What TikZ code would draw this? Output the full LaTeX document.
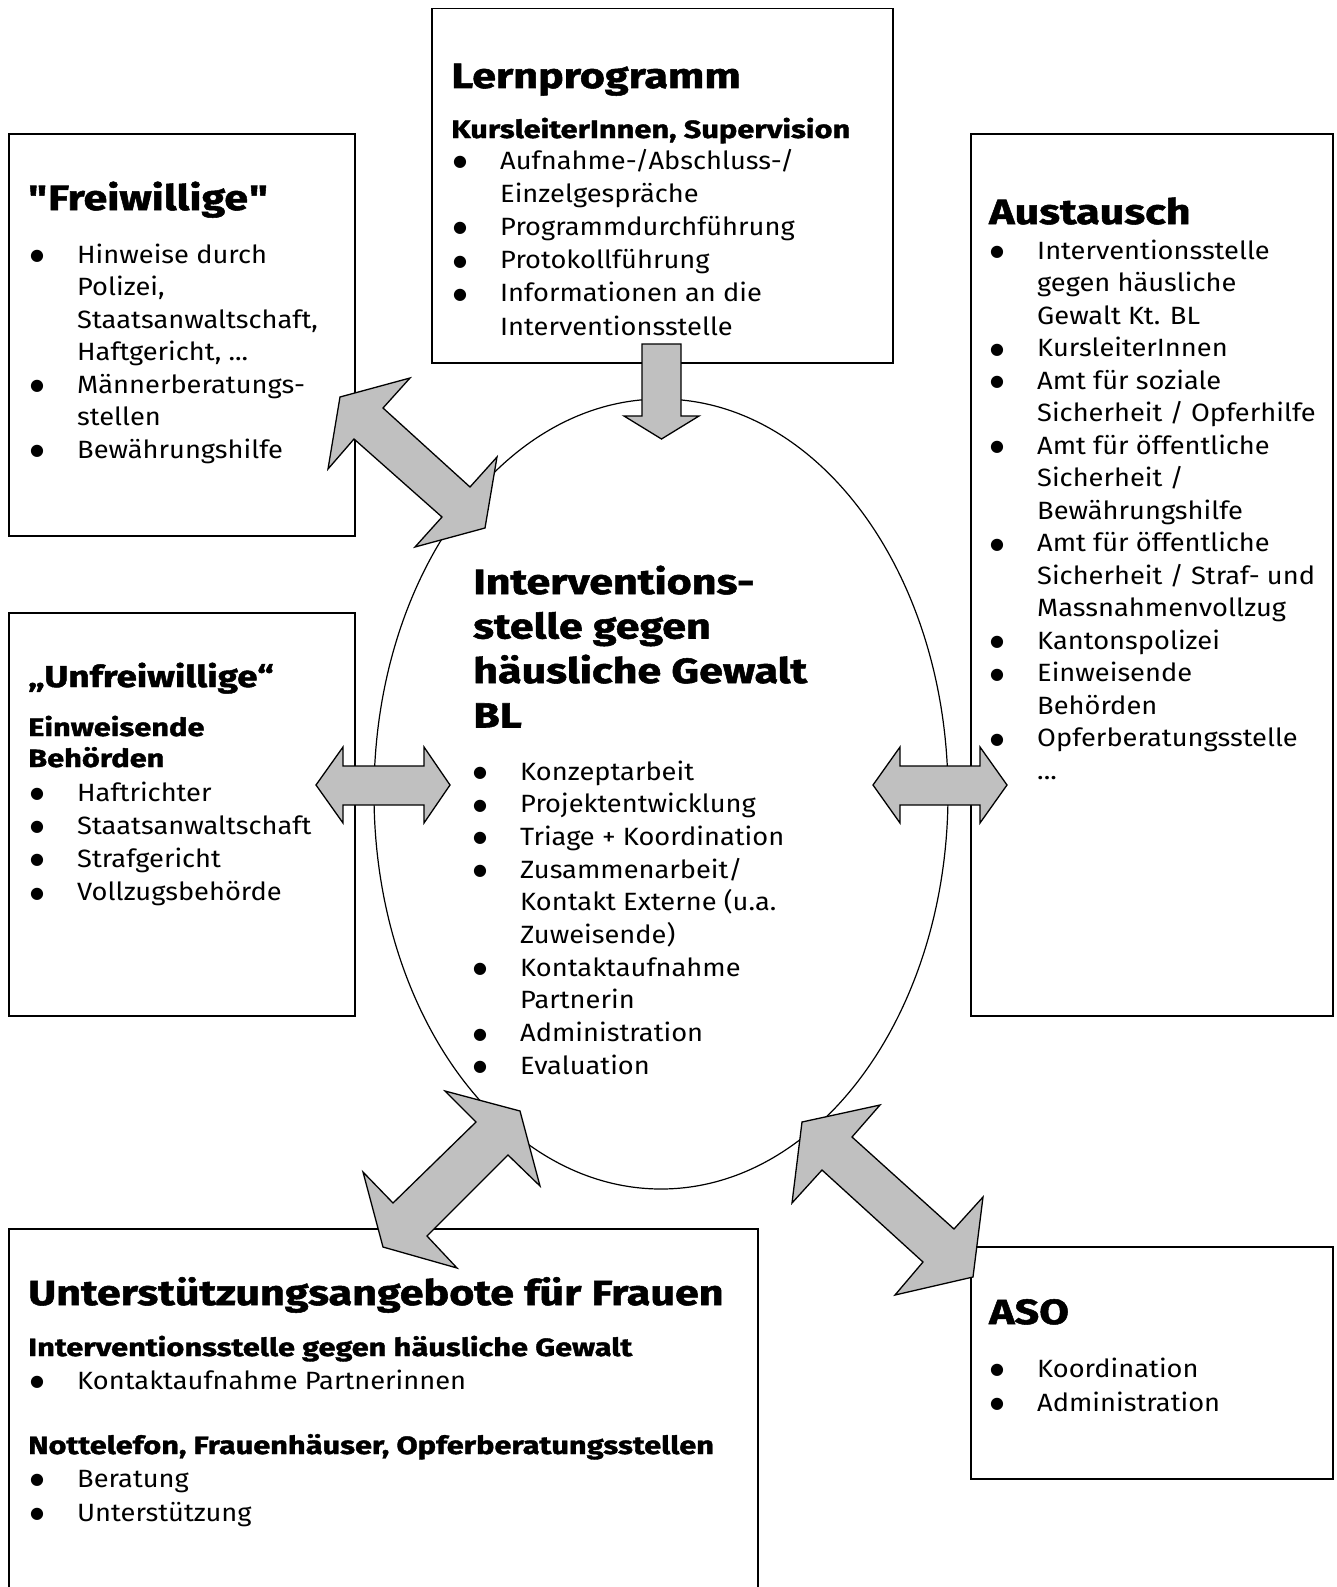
\documentclass[tikz,border=0pt]{standalone}
\usepackage{fontspec}
\setmainfont{Fira Sans}
\newfontfamily\bodyf{Fira Sans}[FakeStretch=1.09]
\newfontfamily\heavyf{Fira Sans}[FakeStretch=1.23,FakeBold=1.5]
\newfontfamily\dejavu{DejaVu Sans}
\usetikzlibrary{shapes.geometric}
\definecolor{arrowgray}{RGB}{192,192,192}
\newcommand\bul{\raisebox{2.5pt}{\dejavu\fontsize{16}{16}\selectfont ●}}
\newcommand\itm[1]{\hbox{\llap{\makebox[0pt]{\bul}\hspace{40pt}}#1}}
\newcommand\cnt[1]{\hbox{#1}}
\newcommand\lines[2]{\vtop{\baselineskip=#1pt\lineskiplimit=-100pt\lineskip=0pt #2}}
\tikzset{
  box/.style={draw, line width=1.5pt, inner sep=0pt, anchor=north west},
  txt/.style={inner sep=0pt, anchor=base west, font=\bodyf\fontsize{25}{32.5}\selectfont},
  hbig/.style={inner sep=0pt, anchor=base west, font=\heavyf\bfseries\fontsize{35}{44.5}\selectfont},
  hsmall/.style={inner sep=0pt, anchor=base west, font=\heavyf\bfseries\fontsize{30}{36}\selectfont},
  subh/.style={inner sep=0pt, anchor=base west, font=\heavyf\bfseries\fontsize{25}{31}\selectfont},
  blockarrow/.style={fill=arrowgray, draw=black, line width=1.3pt, line join=miter},
}
\begin{document}
\begin{tikzpicture}[x=1pt,y=-1pt]
\useasboundingbox (0,0) rectangle (1336,1587);
% boxes
\node[box, minimum width=461pt, minimum height=354pt] (lern) at (431,8) {};
\node[box, minimum width=346pt, minimum height=402pt] (frei) at (8,133) {};
\node[box, minimum width=362pt, minimum height=882pt] (aus) at (970,133) {};
\node[box, minimum width=346pt, minimum height=403pt] (unf) at (8,612) {};
\node[box, minimum width=749pt, minimum height=380pt] (unt) at (8,1228) {};
\node[box, minimum width=362pt, minimum height=232pt] (aso) at (970,1246) {};
\node[draw, ellipse, line width=1.2pt, minimum width=574pt, minimum height=790pt, inner sep=0pt] (ell) at (661,794) {};
% Lernprogramm
\node[hbig] (lernH) at (451,88) {Lernprogramm};
\node[subh] (lernS) at (451,138) {KursleiterInnen, Supervision};
\node[txt] (lernL) at (500,169) {\lines{33.2}{%
  \itm{Aufnahme-/Abschluss-/}\cnt{Einzelgespräche}%
  \itm{Programmdurchführung}\itm{Protokollführung}%
  \itm{Informationen an die}\cnt{Interventionsstelle}}};
% Freiwillige
\node[hbig] (freiH) at (28,210) {"\kern1pt Freiwillige\kern1pt"};
\node[txt] (freiL) at (77,263) {\lines{32.5}{%
  \itm{Hinweise durch}\cnt{Polizei,}\cnt{Staatsanwaltschaft,}\cnt{Haftgericht, ...}%
  \itm{Männerberatungs-}\cnt{stellen}\itm{Bewährungshilfe}}};
% Unfreiwillige
\node[hsmall] (unfH) at (28,687) {„Unfreiwillige“};
\node[subh] (unfS) at (28,736) {\lines{31}{\cnt{Einweisende}\cnt{Behörden}}};
\node[txt] (unfL) at (77,801) {\lines{33.2}{%
  \itm{Haftrichter}\itm{Staatsanwaltschaft}\itm{Strafgericht}\itm{Vollzugsbehörde}}};
% Austausch
\node[hbig] (ausH) at (989,224) {Austausch};
\node[txt] (ausL) at (1037,259) {\lines{32.5}{%
  \itm{Interventionsstelle}\cnt{gegen häusliche}\cnt{Gewalt Kt. BL}%
  \itm{KursleiterInnen}%
  \itm{Amt für soziale}\cnt{Sicherheit / Opferhilfe}%
  \itm{Amt für öffentliche}\cnt{Sicherheit /}\cnt{Bewährungshilfe}%
  \itm{Amt für öffentliche}\cnt{Sicherheit / Straf- und}\cnt{Massnahmenvollzug}%
  \itm{Kantonspolizei}%
  \itm{Einweisende}\cnt{Behörden}%
  \itm{Opferberatungsstelle}\cnt{...}}};
% centre
\node[hbig] (cenH) at (473,594) {\lines{44.5}{%
  \cnt{Interventions-}\cnt{stelle gegen}\cnt{häusliche Gewalt}\cnt{BL}}};
\node[txt] (cenL) at (520,780) {\lines{32.7}{%
  \itm{Konzeptarbeit}\itm{Projektentwicklung}\itm{Triage + Koordination}%
  \itm{Zusammenarbeit/}\cnt{Kontakt Externe (u.a.}\cnt{Zuweisende)}%
  \itm{Kontaktaufnahme}\cnt{Partnerin}\itm{Administration}\itm{Evaluation}}};
% Unterstuetzung
\node[hbig] (untH) at (28,1305) {Unterstützungsangebote für Frauen};
\node[subh] (untS1) at (28,1356) {Interventionsstelle gegen häusliche Gewalt};
\node[txt] (untL1) at (77,1389) {\lines{34}{\itm{Kontaktaufnahme Partnerinnen}}};
\node[subh] (untS2) at (28,1454) {Nottelefon, Frauenhäuser, Opferberatungsstellen};
\node[txt] (untL2) at (77,1487) {\lines{34}{\itm{Beratung}\itm{Unterstützung}}};
% ASO
\node[hbig] (asoH) at (989,1324) {ASO};
\node[txt] (asoL) at (1037,1377) {\lines{34}{\itm{Koordination}\itm{Administration}}};
% block arrows
\draw[blockarrow] (642,344) -- (681,344) -- (681,416) -- (699,416) -- (661.5,439) -- (624,416) -- (642,416) -- cycle;
\draw[blockarrow] (340,397) -- (410,378) -- (383,408) -- (470,487) -- (497,457) -- (485,528) -- (415,547) -- (442,517) -- (354,439) -- (328,469) -- cycle;
\draw[blockarrow] (316,785) -- (343,747) -- (343,766) -- (424,766) -- (424,747) -- (450,785) -- (424,823) -- (424,805) -- (343,805) -- (343,823) -- cycle;
\draw[blockarrow] (873,785) -- (900,747) -- (900,766) -- (980,766) -- (980,747) -- (1007,785) -- (980,823) -- (980,805) -- (900,805) -- (900,823) -- cycle;
\draw[blockarrow] (520,1111) -- (540,1186) -- (508,1155) -- (427,1236) -- (457,1268) -- (383,1247) -- (363,1172) -- (393,1203) -- (476,1122) -- (445,1091) -- cycle;
\draw[blockarrow] (802,1122) -- (880,1105) -- (852,1137) -- (954,1229) -- (983,1197) -- (973,1277) -- (895,1295) -- (923,1262) -- (822,1170) -- (792,1203) -- cycle;
\end{tikzpicture}
\end{document}
